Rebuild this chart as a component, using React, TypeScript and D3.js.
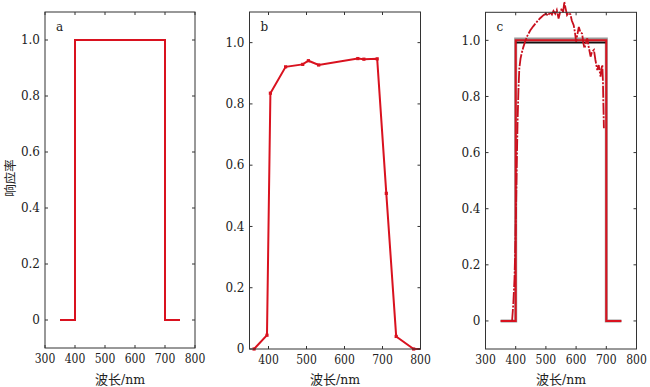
import React from "react";
import * as d3 from "d3";

// panel a: ideal band
const aWave = [350, 400, 400, 700, 700, 750];
const aResp = [0, 0, 1, 1, 0, 0];

// panel b: measured points
const bWave = [362, 396, 405, 445, 490, 505, 532, 635, 651, 686, 710, 736, 782, 800];
const bResp = [0, 0.045, 0.835, 0.921, 0.929, 0.941, 0.927, 0.948, 0.946, 0.947, 0.508, 0.041, 0, 0];

// panel c: reference band (gray), fitted band (black), ideal (red), measured noisy curve
const cGrayWave = [350, 400, 400, 700, 700, 750];
const cGrayResp = [0, 0, 1.005, 1.005, 0, 0];
const cBlackWave = [400, 700];
const cBlackResp = [0.992, 0.992];
const cNoisyWave = [
  388, 392, 396, 399, 402, 404, 406, 409, 412, 416, 420, 425, 431, 438, 448, 458, 470, 480, 492, 500,
  507, 514, 520, 525, 531, 536, 542, 547, 553, 557, 561, 565, 570, 575, 581, 586, 592, 596, 600, 604,
  609, 614, 620, 624, 628, 632, 637, 642, 648, 653, 659, 664, 670, 675, 678, 681, 684, 687, 689, 690,
  691, 692,
];
const cNoisyResp = [
  0, 0.06, 0.15, 0.28, 0.45, 0.58, 0.7, 0.82, 0.9, 0.935, 0.955, 0.975, 0.995, 1.015, 1.035, 1.05, 1.066,
  1.078, 1.09, 1.095, 1.088, 1.1, 1.092, 1.105, 1.095, 1.108, 1.078, 1.1, 1.114, 1.1, 1.137, 1.115, 1.09,
  1.098, 1.093, 1.07, 1.054, 1.03, 0.995, 1.02, 1.048, 1.03, 1.024, 0.99, 0.972, 0.99, 1.007, 0.975, 0.942,
  0.96, 0.966, 0.93, 0.894, 0.912, 0.89, 0.871, 0.9, 0.912, 0.85, 0.788, 0.74, 0.687,
];

const xTicksAC = [300, 400, 500, 600, 700, 800];
const xTicksB = [400, 500, 600, 700, 800];
const yTicks = [0, 0.2, 0.4, 0.6, 0.8, 1.0];

const RED = "#d9121f";
const FONT = "DejaVu Serif";
const CJK = "Noto Sans CJK SC, sans-serif";
const FS = 12;

type Series = { x: number[]; y: number[] };
const zip = (s: Series) => s.x.map((v, i) => [v, s.y[i]] as [number, number]);

const Panel = ({ x, y, xTicks, letter, children }: any) => {
  const [x0, x1] = x.range();
  const [y0, y1] = y.range();
  const tl = 3;
  return (
    <g>
      {children}
      <rect x={x0} y={y1} width={x1 - x0} height={y0 - y1} fill="none" stroke="#333" strokeWidth={1} />
      {xTicks.map((t: number) => (
        <g key={"x" + t}>
          <line x1={x(t)} x2={x(t)} y1={y0} y2={y0 - tl} stroke="#333" />
          <line x1={x(t)} x2={x(t)} y1={y1} y2={y1 + tl} stroke="#333" />
          <text
            x={x(t)}
            y={y0 + 15}
            textAnchor="middle"
            fontSize={FS}
            fontFamily={FONT}
            fontStretch="condensed"
            fill="#222"
          >
            {t}
          </text>
        </g>
      ))}
      {yTicks.map((t) => (
        <g key={"y" + t}>
          <line x1={x0} x2={x0 + tl} y1={y(t)} y2={y(t)} stroke="#333" />
          <line x1={x1} x2={x1 - tl} y1={y(t)} y2={y(t)} stroke="#333" />
          <text x={x0 - 5} y={y(t) + 4.3} textAnchor="end" fontSize={FS} fontFamily={FONT} fill="#222">
            {t === 0 ? "0" : t.toFixed(1)}
          </text>
        </g>
      ))}
      <text x={x0 + 11} y={y1 + 19} fontSize={FS} fontFamily={FONT} fill="#222">
        {letter}
      </text>
      <text x={(x0 + x1) / 2} y={384} textAnchor="middle" fontSize={13} fill="#222">
        <tspan fontFamily={CJK}>波长</tspan>
        <tspan fontFamily={FONT} fontSize={12.5}>/nm</tspan>
      </text>
    </g>
  );
};

export default function App() {
  const xa = d3.scaleLinear().domain([300, 800]).range([45, 195]);
  const ya = d3.scaleLinear().domain([-0.1, 1.1]).range([348, 12]);
  const xb = d3.scaleLinear().domain([350, 800]).range([249.5, 420.5]);
  const yb = d3.scaleLinear().domain([0, 1.1]).range([349, 12]);
  const xc = d3.scaleLinear().domain([300, 800]).range([485.5, 636.5]);
  const yc = d3.scaleLinear().domain([-0.1, 1.1]).range([349, 12.3]);

  const la = d3.line().x((d) => xa(d[0])).y((d) => ya(d[1]));
  const lb = d3.line().x((d) => xb(d[0])).y((d) => yb(d[1]));
  const lc = d3.line().x((d) => xc(d[0])).y((d) => yc(d[1]));

  const bPts = zip({ x: bWave, y: bResp });

  return (
    <div style={{ position: "absolute", left: 0, top: 0 }}>
      <svg width={650} height={387} style={{ display: "block", background: "#fff" }}>
        <Panel x={xa} y={ya} xTicks={xTicksAC} letter="a">
          <path d={la(zip({ x: aWave, y: aResp })) || ""} fill="none" stroke={RED} strokeWidth={2} />
        </Panel>
        <Panel x={xb} y={yb} xTicks={xTicksB} letter="b">
          <path d={lb(bPts) || ""} fill="none" stroke={RED} strokeWidth={2} />
          {bPts.slice(0, -1).map((p, i) => (
            <rect key={i} x={xb(p[0]) - 1.6} y={yb(p[1]) - 1.6} width={3.2} height={3.2} fill={RED} />
          ))}
        </Panel>
        <Panel x={xc} y={yc} xTicks={xTicksAC} letter="c">
          <path d={lc(zip({ x: cGrayWave, y: cGrayResp })) || ""} fill="none" stroke="#9a9a9a" strokeWidth={3} />
          <path d={lc(zip({ x: cBlackWave, y: cBlackResp })) || ""} fill="none" stroke="#111" strokeWidth={2} />
          <path d={lc(zip({ x: aWave, y: aResp })) || ""} fill="none" stroke={RED} strokeWidth={2} />
          <path
            d={lc(zip({ x: cNoisyWave, y: cNoisyResp })) || ""}
            fill="none"
            stroke="#c8101e"
            strokeWidth={1.8}
            strokeDasharray="12,1.5,2,1.5"
          />
        </Panel>
        <text
          transform="translate(15,178) rotate(-90)"
          textAnchor="middle"
          fontSize={12.5}
          fontFamily={CJK}
          fill="#222"
        >
          响应率
        </text>
      </svg>
    </div>
  );
}
